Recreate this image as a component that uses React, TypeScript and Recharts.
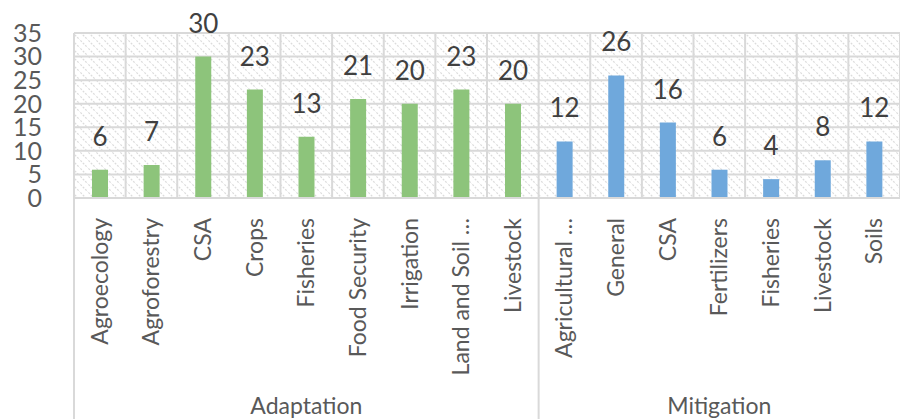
import { BarChart, Bar, XAxis, YAxis, CartesianGrid, LabelList, Cell } from 'recharts'

const categories = [
  'Agroecology', 'Agroforestry', 'CSA', 'Crops', 'Fisheries', 'Food Security', 'Irrigation', 'Land and Soil …', 'Livestock',
  'Agricultural …', 'General', 'CSA', 'Fertilizers', 'Fisheries', 'Livestock', 'Soils',
]
const counts = [6, 7, 30, 23, 13, 21, 20, 23, 20, 12, 26, 16, 6, 4, 8, 12]
const groups = [
  'Adaptation', 'Adaptation', 'Adaptation', 'Adaptation', 'Adaptation', 'Adaptation', 'Adaptation', 'Adaptation', 'Adaptation',
  'Mitigation', 'Mitigation', 'Mitigation', 'Mitigation', 'Mitigation', 'Mitigation', 'Mitigation',
]
const yTicks = [0, 5, 10, 15, 20, 25, 30, 35]

const GROUP_COLORS: Record<string, string> = { Adaptation: '#8dc47b', Mitigation: '#6fa8dc' }
const FONT = 'Lato, "Noto Sans", sans-serif'
const TEXT = '#595959'
const GRID = '#d9d9d9'

const W = 900
const H = 419
const LEFT = 74
const AXIS_H = 221
const BAND = (W - LEFT) / categories.length

const data = categories.map((name, i) => ({ key: `${groups[i]}-${i}`, name, value: counts[i], group: groups[i] }))

// first index and middle index of each group along the category axis
const groupNames = Array.from(new Set(groups))
const groupStarts = groupNames.map(g => groups.indexOf(g))
const groupMids = groupNames.map(g => {
  const first = groups.indexOf(g)
  const last = groups.lastIndexOf(g)
  return Math.floor((first + last) / 2)
})

function CategoryTick(props: any) {
  const { x, y, index } = props
  const row = data[index]
  const gi = groupMids.indexOf(index)
  const si = groupStarts.indexOf(index)
  return (
    <g>
      <text
        transform={`translate(${x + 8},${y + 20}) rotate(-90)`}
        textAnchor="end"
        fontFamily={FONT}
        fontSize={23}
        fill={TEXT}
      >
        {row.name}
      </text>
      {si >= 0 && (
        <line x1={x - BAND / 2} x2={x - BAND / 2} y1={y} y2={H} stroke={GRID} strokeWidth={2} />
      )}
      {gi >= 0 && (
        <text x={x} y={y + 216} textAnchor="middle" fontFamily={FONT} fontSize={23} fill={TEXT}>
          {groupNames[gi]}
        </text>
      )}
    </g>
  )
}

export default function App() {
  return (
    <div style={{ position: 'absolute', left: 0, top: 0, background: '#fff' }}>
      <BarChart width={W} height={H} data={data} margin={{ top: 33, right: 0, bottom: 0, left: 0 }} barSize={16}>
        <defs>
          <pattern id="hatch" patternUnits="userSpaceOnUse" width={8} height={8}>
            <rect width={8} height={8} fill="#ffffff" />
            <path d="M-2,-2 L10,10 M-2,6 L2,10 M6,-2 L10,2" stroke="#dcdcdc" strokeWidth={1.2} strokeDasharray="2 1.4" />
          </pattern>
        </defs>
        <CartesianGrid
          fill="url(#hatch)"
          stroke={GRID}
          strokeWidth={2}
          verticalCoordinatesGenerator={({ offset }: any) =>
            categories.map((_, i) => offset.left + (i * offset.width) / categories.length).concat(offset.left + offset.width)
          }
        />
        <XAxis
          dataKey="key"
          height={AXIS_H}
          interval={0}
          tickSize={0}
          tickMargin={0}
          tickLine={false}
          axisLine={{ stroke: GRID, strokeWidth: 2 }}
          tick={<CategoryTick />}
        />
        <YAxis
          width={LEFT}
          domain={[0, 35]}
          ticks={yTicks}
          interval={0}
          axisLine={false}
          tickLine={false}
          tickSize={0}
          tickMargin={32}
          tick={{ fill: TEXT, fontSize: 25, fontFamily: FONT }}
        />
        <Bar dataKey="value" isAnimationActive={false}>
          {data.map(d => (
            <Cell key={d.key} fill={GROUP_COLORS[d.group]} />
          ))}
          <LabelList dataKey="value" position="top" offset={24} fill="#404040" fontSize={26} fontFamily={FONT} />
        </Bar>
      </BarChart>
    </div>
  )
}
